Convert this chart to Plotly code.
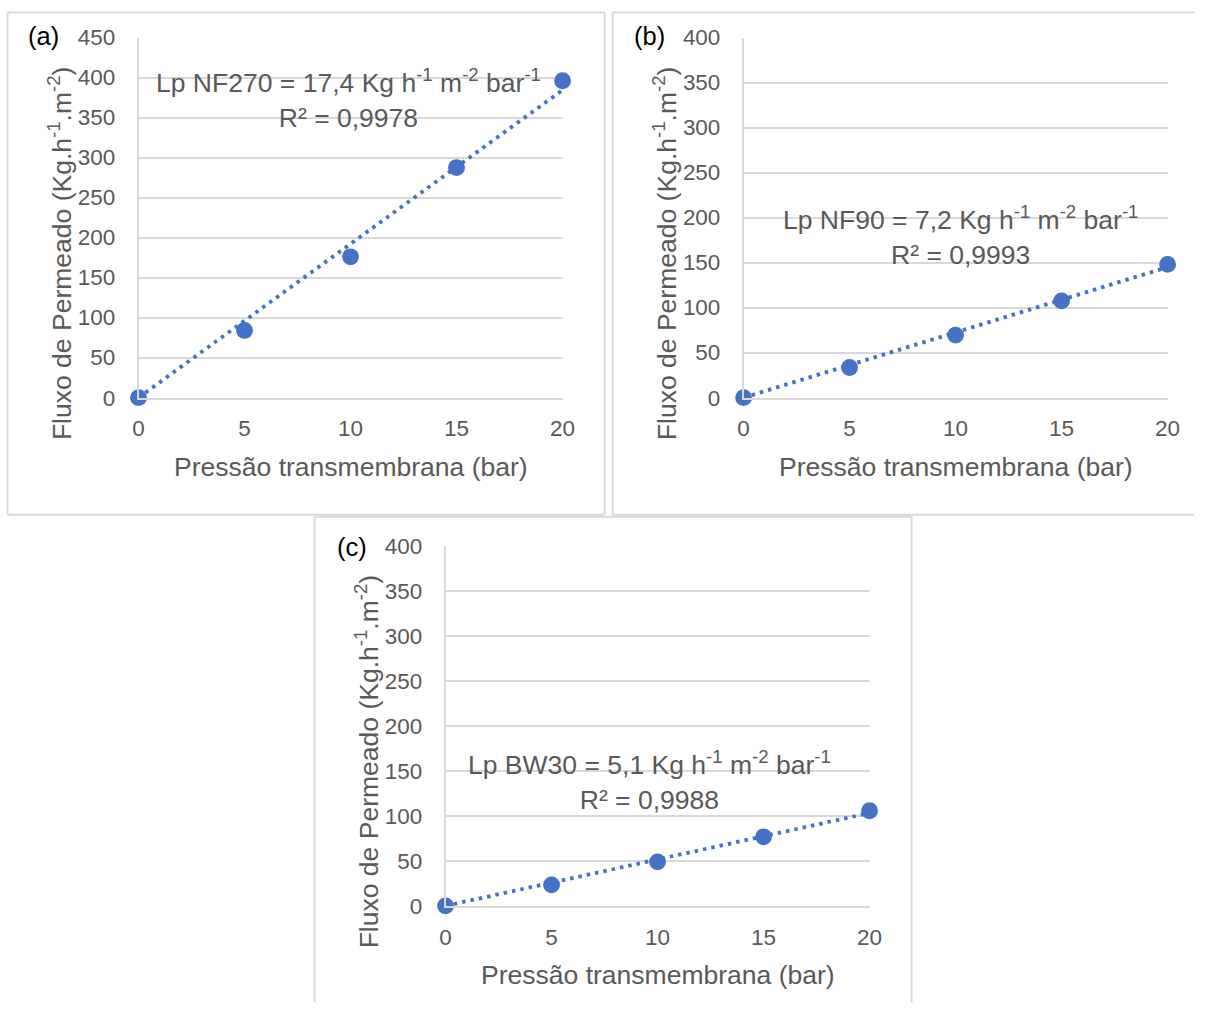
import numpy as np
import plotly.graph_objects as go

W, H = 1207, 1016

# ---- data ----
pressure = [0, 5, 10, 15, 20]
flux_nf270 = [0, 84, 176, 287.5, 396]
flux_nf90 = [0, 33.5, 69.5, 107.5, 148]
flux_bw30 = [0, 23.3, 48.9, 76.7, 105.6]
panel_labels = ["(a)", "(b)", "(c)"]
eq_texts = [
    "Lp NF270 = 17,4 Kg h<sup>-1</sup> m<sup>-2</sup> bar<sup>-1</sup><br>R² = 0,9978",
    "Lp NF90 = 7,2 Kg h<sup>-1</sup> m<sup>-2</sup> bar<sup>-1</sup><br>R² = 0,9993",
    "Lp BW30 = 5,1 Kg h<sup>-1</sup> m<sup>-2</sup> bar<sup>-1</sup><br>R² = 0,9988",
]
y_max = [450, 400, 400]
x_ticks = [0, 5, 10, 15, 20]
x_title = "Pressão transmembrana (bar)"
y_title = "Fluxo de Permeado (Kg.h<sup>-1</sup>.m<sup>-2</sup>)"

series = [flux_nf270, flux_nf90, flux_bw30]

# ---- layout geometry (target picture pixels) ----
plot_boxes = [  # left, right, top, bottom
    (138, 562, 37, 397),
    (743, 1167, 37, 397),
    (445, 869, 545, 905),
]
frame_lines = [
    (7, 7, 604, 7), (7, 7, 7, 514), (604, 7, 604, 514), (7, 514, 604, 514),
    (612, 7, 1220, 7), (612, 7, 612, 514), (612, 514, 1220, 514),
    (314, 516, 911, 516), (314, 516, 314, 1030), (911, 516, 911, 1030),
]
label_pos = [(43, 35), (649, 35), (351, 546)]
eq_pos = [(348, 98), (960, 235), (649, 780)]

BLUE = "#4472C4"
GRAY_TXT = "#595959"
GRID = "#d9d9d9"
FONT = "Liberation Sans, Arial, sans-serif"

# the capture maps page pixel (X, Y) to picture (5.5 + 0.985 X, 11.5 + 0.975 Y)
SX, OX, SY, OY = 0.985, 5.5, 0.975, 11.5
K = 1 / 0.98  # size compensation


def px(x):
    v = (x - OX) / SX
    return min(max(v, 0.5), W - 0.5) / W


def py(y):
    v = (y - OY) / SY
    return 1 - min(max(v, 0.5), H - 0.5) / H


fig = go.Figure()
layout = dict(
    width=W, height=H, margin=dict(l=0, r=0, t=0, b=0),
    paper_bgcolor="white", plot_bgcolor="white", showlegend=False,
    font=dict(family=FONT, color=GRAY_TXT),
)
annotations = []
shapes = []

for (x0, y0, x1, y1) in frame_lines:
    shapes.append(dict(type="line", xref="paper", yref="paper",
                       x0=px(x0), x1=px(x1), y0=py(y0), y1=py(y1),
                       line=dict(color=GRID, width=2), layer="below"))

x_arr = np.array(pressure, dtype=float)
for i, ys in enumerate(series):
    n = "" if i == 0 else str(i + 1)
    xa, ya = "x" + n, "y" + n
    y_arr = np.array(ys, dtype=float)
    slope = float(np.sum(x_arr * y_arr) / np.sum(x_arr ** 2))
    fig.add_trace(go.Scatter(
        x=[pressure[0], pressure[-1]], y=[slope * pressure[0], slope * pressure[-1]],
        mode="lines", line=dict(color=BLUE, width=3.8, dash="3.5px,5px"),
        xaxis=xa, yaxis=ya, hoverinfo="skip", cliponaxis=False))
    fig.add_trace(go.Scatter(
        x=pressure, y=ys, mode="markers",
        marker=dict(color=BLUE, size=16.5 * K, line=dict(width=0)),
        xaxis=xa, yaxis=ya, cliponaxis=False))

    l, r, t, b = plot_boxes[i]
    layout["xaxis" + n] = dict(
        domain=[px(l), px(r)], range=[0, 20], anchor=ya,
        tickvals=x_ticks, showgrid=False, zeroline=False,
        showline=True, linecolor=GRID, linewidth=1.5,
        ticks="", ticklabelstandoff=10,
        tickfont=dict(size=22 * K, color=GRAY_TXT, family=FONT), fixedrange=True)
    layout["yaxis" + n] = dict(
        domain=[py(b), py(t)], range=[0, y_max[i]], anchor=xa,
        dtick=50, tick0=0, showgrid=True, gridcolor=GRID, gridwidth=1.5,
        zeroline=False, showline=True, linecolor=GRID, linewidth=1.5,
        ticks="", ticklabelstandoff=17,
        tickfont=dict(size=22 * K, color=GRAY_TXT, family=FONT), fixedrange=True)

    lx, ly = label_pos[i]
    annotations.append(dict(text=panel_labels[i], xref="paper", yref="paper",
                            x=px(lx), y=py(ly), showarrow=False,
                            xanchor="center", yanchor="middle",
                            font=dict(size=25 * K, color="black", family=FONT)))
    ex, ey = eq_pos[i]
    annotations.append(dict(text=eq_texts[i], xref="paper", yref="paper",
                            x=px(ex), y=py(ey), showarrow=False, align="center",
                            xanchor="center", yanchor="middle",
                            font=dict(size=26 * K, color=GRAY_TXT, family=FONT)))
    annotations.append(dict(text=x_title, xref="paper", yref="paper",
                            x=px((l + r) / 2), y=py(b + 69), showarrow=False,
                            xanchor="center", yanchor="middle",
                            font=dict(size=26 * K, color=GRAY_TXT, family=FONT)))
    annotations.append(dict(text=y_title, xref="paper", yref="paper",
                            x=px(l - 79), y=py(t + 216), showarrow=False,
                            textangle=-90, xanchor="center", yanchor="middle",
                            font=dict(size=26 * K, color=GRAY_TXT, family=FONT)))

layout["annotations"] = annotations
layout["shapes"] = shapes
fig.update_layout(**layout)
fig.write_html(
    "out.html",
    config={"displayModeBar": False},
    post_script=(
        "document.body.style.margin='0';"
        "document.body.style.overflow='hidden';"
        "document.documentElement.style.overflow='hidden';"
    ),
)
